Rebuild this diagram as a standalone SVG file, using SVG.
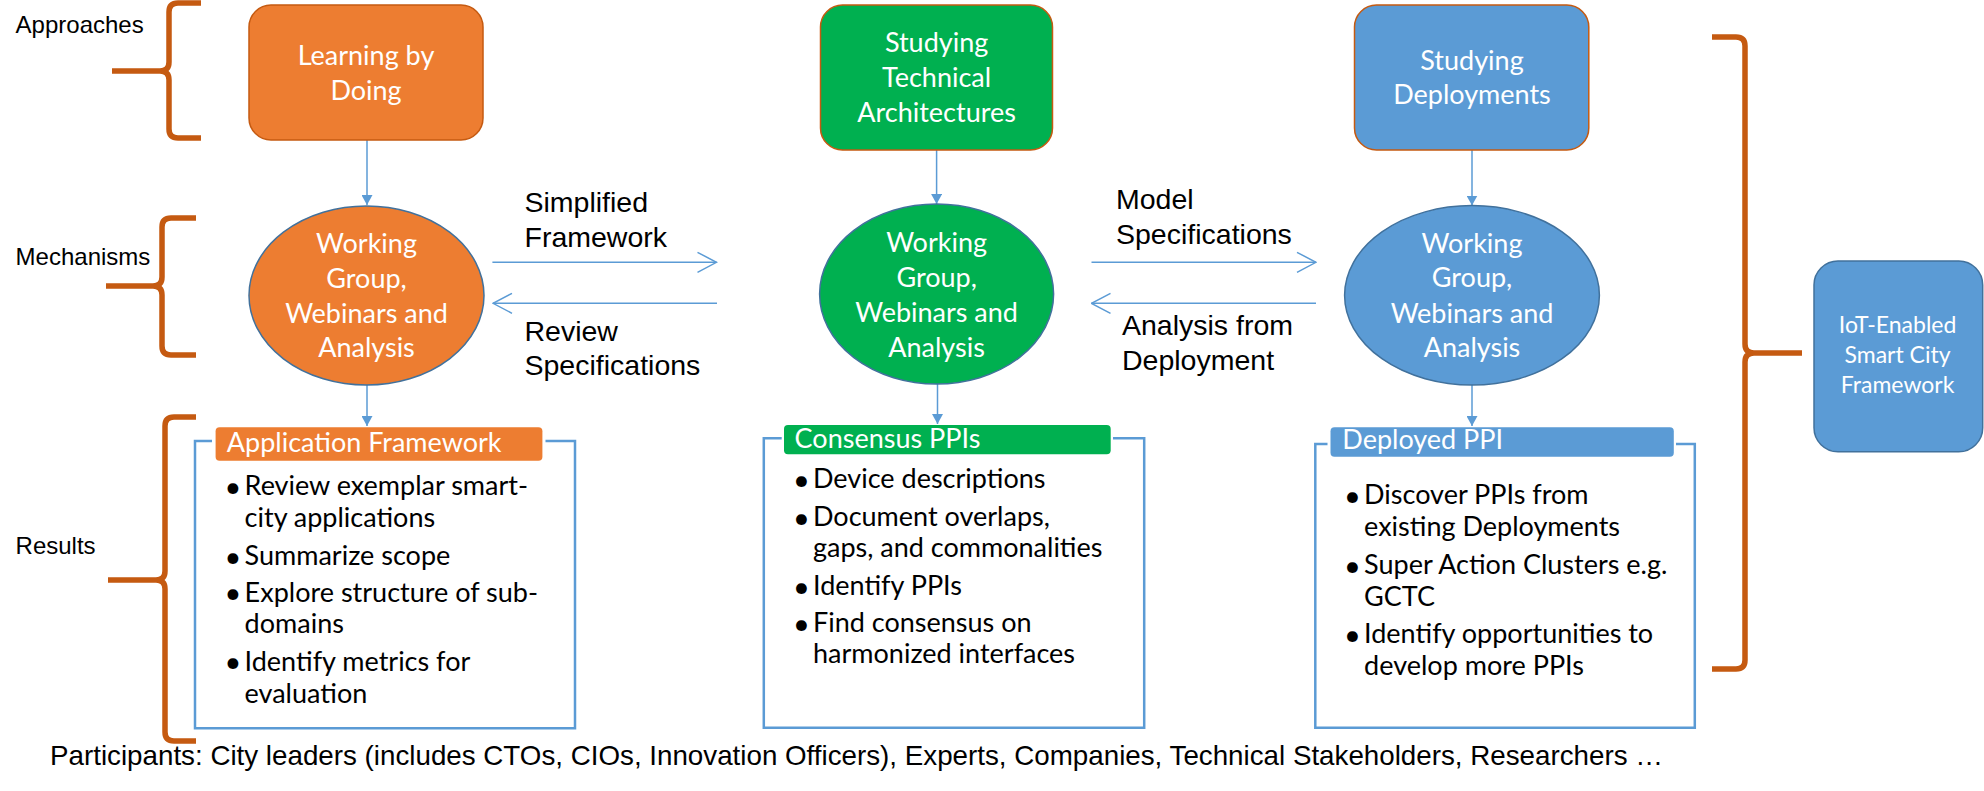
<svg xmlns="http://www.w3.org/2000/svg" width="1984" height="791" viewBox="0 0 1984 791">
<style>
.bg{fill:#fff}
.lbl{font-family:"Liberation Sans",Arial,sans-serif;font-size:28.5px;fill:#000}
.side{font-family:"Liberation Sans",Arial,sans-serif;font-size:24px;fill:#000}
.part{font-family:"Liberation Sans",Arial,sans-serif;font-size:28.5px;fill:#000}
.cal{font-family:Lato,"Open Sans",sans-serif;font-size:27px;fill:#fff;text-anchor:middle}
.hdr{font-family:Lato,"Open Sans",sans-serif;font-size:27px;fill:#fff}
.bul{font-family:Lato,"Open Sans",sans-serif;font-size:27px;fill:#000}
.dot{font-family:Lato,"Open Sans",sans-serif;font-size:29px;fill:#000;text-anchor:middle}
.brace{fill:none;stroke:#C55A11;stroke-width:5.5}
.conn{stroke:#5B9BD5;stroke-width:1.5;fill:none}
.topbox{stroke:#C55A11;stroke-width:1.5}
.ell{stroke:#41719C;stroke-width:1.5}
.frame{fill:none;stroke:#5B9BD5;stroke-width:2.5}
.orange{fill:#ED7D31}
.green{fill:#00B050}
.blue{fill:#5B9BD5}
</style>
<defs>
<marker id="tri" viewBox="0 0 10 11" refX="10" refY="5.5" markerWidth="10" markerHeight="11" orient="auto" markerUnits="userSpaceOnUse">
<path d="M0,0 L10,5.5 L0,11 z" fill="#5B9BD5"/>
</marker>
<marker id="open" viewBox="0 0 21 22" refX="20" refY="11" markerWidth="21" markerHeight="22" orient="auto" markerUnits="userSpaceOnUse">
<path d="M1,1 L20,11 L1,21" fill="none" stroke="#5B9BD5" stroke-width="1.5"/>
</marker>
</defs>
<rect class="bg" x="0" y="0" width="1984" height="791"/>

<g id="row-labels">
<text class="side" x="15.6" y="32.7">Approaches</text>
<text class="side" x="15.6" y="265">Mechanisms</text>
<text class="side" x="15.6" y="554">Results</text>
</g>

<g id="braces">
<path class="brace" d="M201,3 H178 Q169,3 169,12 V62 Q169,71 160,71 H112 M160,71 Q169,71 169,80 V129 Q169,138 178,138 H201"/>
<path class="brace" d="M196,218 H171 Q162,218 162,227 V277 Q162,286 153,286 H106 M153,286 Q162,286 162,295 V346 Q162,355 171,355 H196"/>
<path class="brace" d="M196,417 H174 Q165,417 165,426 V571 Q165,580 156,580 H108 M156,580 Q165,580 165,589 V732 Q165,741 174,741 H196"/>
<path class="brace" d="M1712,37 H1736 Q1745,37 1745,46 V344 Q1745,353 1754,353 H1802 M1754,353 Q1745,353 1745,362 V660 Q1745,669 1736,669 H1712"/>
</g>

<g id="connectors">
<line class="conn" x1="367" y1="140" x2="367" y2="205" marker-end="url(#tri)"/>
<line class="conn" x1="367" y1="385" x2="367" y2="426" marker-end="url(#tri)"/>
<line class="conn" x1="936.6" y1="150" x2="936.6" y2="204" marker-end="url(#tri)"/>
<line class="conn" x1="937.5" y1="384" x2="937.5" y2="424" marker-end="url(#tri)"/>
<line class="conn" x1="1472" y1="150" x2="1472" y2="205.5" marker-end="url(#tri)"/>
<line class="conn" x1="1472" y1="385" x2="1472" y2="426" marker-end="url(#tri)"/>
<line class="conn" x1="492.4" y1="262.3" x2="716.5" y2="262.3" marker-end="url(#open)"/>
<line class="conn" x1="717" y1="303.3" x2="493" y2="303.3" marker-end="url(#open)"/>
<line class="conn" x1="1091.5" y1="262.3" x2="1316" y2="262.3" marker-end="url(#open)"/>
<line class="conn" x1="1316" y1="303.3" x2="1091.5" y2="303.3" marker-end="url(#open)"/>
<text class="lbl" x="524.5" y="211.7">Simplified</text>
<text class="lbl" x="524.5" y="246.7">Framework</text>
<text class="lbl" x="524.5" y="340.7">Review</text>
<text class="lbl" x="524.5" y="375">Specifications</text>
<text class="lbl" x="1116" y="209.3">Model</text>
<text class="lbl" x="1116" y="244">Specifications</text>
<text class="lbl" x="1122" y="335">Analysis from</text>
<text class="lbl" x="1122" y="370">Deployment</text>
</g>

<g id="approach-learning">
<rect class="orange topbox" x="249" y="5" width="234" height="135" rx="22"/>
<text class="cal" x="366" y="65">Learning by</text>
<text class="cal" x="366" y="100">Doing</text>
</g>
<g id="approach-architectures">
<rect class="green topbox" x="820.5" y="5" width="232" height="145" rx="22"/>
<text class="cal" x="936.6" y="51.7">Studying</text>
<text class="cal" x="936.6" y="87.3">Technical</text>
<text class="cal" x="936.6" y="121.7">Architectures</text>
</g>
<g id="approach-deployments">
<rect class="blue topbox" x="1354.5" y="5" width="234.3" height="145" rx="22"/>
<text class="cal" x="1472" y="70">Studying</text>
<text class="cal" x="1472" y="104.3">Deployments</text>
</g>

<g id="mechanism-1">
<ellipse class="orange ell" cx="366.5" cy="295.5" rx="117.5" ry="89.5"/>
<text class="cal" x="366.5" y="253">Working</text>
<text class="cal" x="366.5" y="288">Group,</text>
<text class="cal" x="366.5" y="323">Webinars and</text>
<text class="cal" x="366.5" y="357">Analysis</text>
</g>
<g id="mechanism-2">
<ellipse class="green ell" cx="936.6" cy="294" rx="117" ry="90"/>
<text class="cal" x="936.6" y="252.3">Working</text>
<text class="cal" x="936.6" y="287.3">Group,</text>
<text class="cal" x="936.6" y="321.7">Webinars and</text>
<text class="cal" x="936.6" y="356.7">Analysis</text>
</g>
<g id="mechanism-3">
<ellipse class="blue ell" cx="1472" cy="295.3" rx="127.4" ry="89.7"/>
<text class="cal" x="1472" y="253.3">Working</text>
<text class="cal" x="1472" y="287.3">Group,</text>
<text class="cal" x="1472" y="322.7">Webinars and</text>
<text class="cal" x="1472" y="357.3">Analysis</text>
</g>

<g id="result-application-framework">
<path class="frame" d="M212,441 H195 V728.3 H575 V441 H545.5"/>
<rect class="orange" x="215.6" y="427.3" width="326.8" height="33.4" rx="4"/>
<text class="hdr" x="226.8" y="451.7">Application Framework</text>
<text class="dot" x="233" y="496.5">•</text><text class="bul" x="244.6" y="495">Review exemplar smart-</text>
<text class="bul" x="244.6" y="526.7">city applications</text>
<text class="dot" x="233" y="566.5">•</text><text class="bul" x="244.6" y="565">Summarize scope</text>
<text class="dot" x="233" y="603.2">•</text><text class="bul" x="244.6" y="601.7">Explore structure of sub-</text>
<text class="bul" x="244.6" y="633.3">domains</text>
<text class="dot" x="233" y="672.2">•</text><text class="bul" x="244.6" y="670.7">Identify metrics for</text>
<text class="bul" x="244.6" y="702.7">evaluation</text>
</g>

<g id="result-consensus-ppis">
<path class="frame" d="M781.7,438.3 H763.8 V727.7 H1144.2 V438.3 H1113"/>
<rect class="green" x="784" y="425" width="326.7" height="29.3" rx="4"/>
<text class="hdr" x="794.6" y="447.7">Consensus PPIs</text>
<text class="dot" x="801.4" y="489.8">•</text><text class="bul" x="813" y="488.3">Device descriptions</text>
<text class="dot" x="801.4" y="527.5">•</text><text class="bul" x="813" y="526">Document overlaps,</text>
<text class="bul" x="813" y="557.3">gaps, and commonalities</text>
<text class="dot" x="801.4" y="596.5">•</text><text class="bul" x="813" y="595">Identify PPIs</text>
<text class="dot" x="801.4" y="633.8">•</text><text class="bul" x="813" y="632.3">Find consensus on</text>
<text class="bul" x="813" y="663.3">harmonized interfaces</text>
</g>

<g id="result-deployed-ppi">
<path class="frame" d="M1327.5,444 H1315.3 V727.7 H1694.8 V444 H1676"/>
<rect class="blue" x="1330.5" y="427.3" width="343.3" height="29.4" rx="4"/>
<text class="hdr" x="1342.3" y="449.3">Deployed PPI</text>
<text class="dot" x="1352.5" y="505.8">•</text><text class="bul" x="1364.1" y="504.3">Discover PPIs from</text>
<text class="bul" x="1364.1" y="536">existing Deployments</text>
<text class="dot" x="1352.5" y="575.5">•</text><text class="bul" x="1364.1" y="574">Super Action Clusters e.g.</text>
<text class="bul" x="1364.1" y="606">GCTC</text>
<text class="dot" x="1352.5" y="644.8">•</text><text class="bul" x="1364.1" y="643.3">Identify opportunities to</text>
<text class="bul" x="1364.1" y="675">develop more PPIs</text>
</g>

<g id="iot-framework">
<rect class="blue" x="1814" y="261" width="168.7" height="190.7" rx="24" stroke="#41719C" stroke-width="1.5"/>
<text class="cal" x="1897.6" y="333.3" style="font-size:23px">IoT-Enabled</text>
<text class="cal" x="1897.6" y="363.3" style="font-size:23px">Smart City</text>
<text class="cal" x="1897.6" y="393.3" style="font-size:23px">Framework</text>
</g>

<g id="participants">
<text class="part" x="50" y="765" textLength="1613" lengthAdjust="spacingAndGlyphs">Participants: City leaders (includes CTOs, CIOs, Innovation Officers), Experts, Companies, Technical Stakeholders, Researchers …</text>
</g>
</svg>
